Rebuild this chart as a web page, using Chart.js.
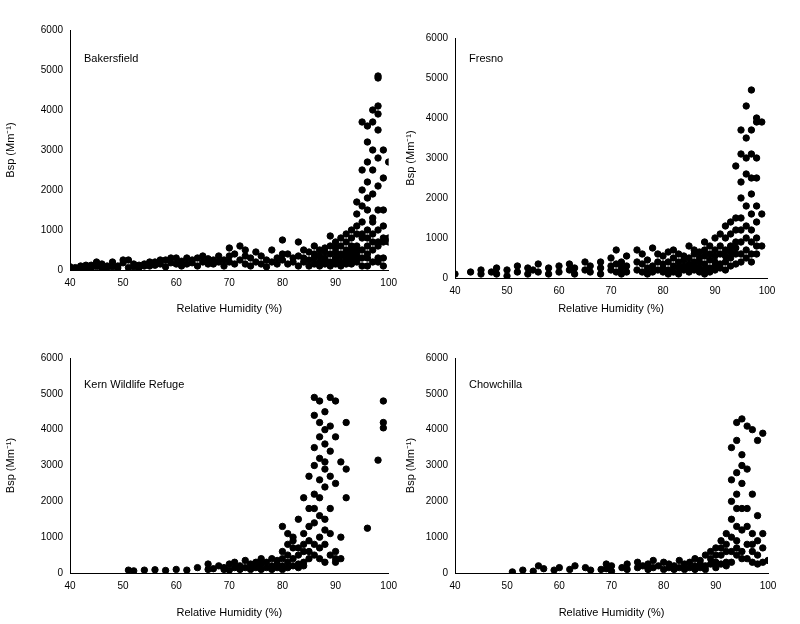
<!DOCTYPE html>
<html>
<head>
<meta charset="utf-8">
<script src="https://cdn.jsdelivr.net/npm/chart.js@4"></script>
<style>
body { margin: 0; background: #fff; width: 800px; height: 624px; position: relative; overflow: hidden; }
canvas { position: absolute; }
.lbl { position: absolute; font: 11px Arial, "Liberation Sans", sans-serif; color: #000; }
</style>
</head>
<body>
<canvas id="c1" style="left:0;top:0" width="400" height="320"></canvas>
<canvas id="c2" style="left:400px;top:0" width="380" height="320"></canvas>
<canvas id="c3" style="left:0;top:320px" width="400" height="304"></canvas>
<canvas id="c4" style="left:400px;top:320px" width="380" height="304"></canvas>
<div class="lbl" style="left:84px;top:52px">Bakersfield</div>
<div class="lbl" style="left:469px;top:52px">Fresno</div>
<div class="lbl" style="left:84px;top:378px">Kern Wildlife Refuge</div>
<div class="lbl" style="left:469px;top:378px">Chowchilla</div>
<script>
// columns: relative humidity value, then the Bsp values seen at that humidity
const bakRH = [40,41,42,43,44,45,46,47,48,49,50,51,52,53,54,55,56,57,58,59,60,61,62,63,64,65,66,67,68,69,70,71,72,73,74,75,76,77,78,79,80,81,82,83,84,85,86,87,88,89,90,91,92,93,94,95,96,97,98,99,100];
const bakBsp = [[80,50],[60,30],[100,40],[60,120],[120,50],[90,200],[150,40],[60,100],[200,80],[100,50],[180,250],[250,60],[80,150],[120,60],[150,100],[100,200],[200,120],[150,250],[250,80],[180,300],[300,150],[220,100],[150,300],[250,180],[300,100],[200,350],[280,150],[150,250],[350,200],[250,100],[550,200,350],[400,150],[600,250],[500,350,150],[300,100],[200,450],[350,150],[250,80],[500,200],[300,150],[750,250,400],[400,150],[300,200],[700,350,100],[500,200,300],[250,450,100],[400,150,300,600],[500,200,350,100],[300,450,150,550,250],[600,200,400,100,850],[450,300,150,700,250,550],[350,200,600,100,800,400],[500,300,700,150,900,250,400],[400,200,600,1000,300,800,150,500],[600,300,900,1400,200,1100,500,1700,400],[800,1200,300,2000,1600,500,2500,100,900,3700],[1000,2200,600,1500,3200,300,2700,1800,800,3600,400,100],[500,1300,2500,3000,700,4000,200,1900,900,3700,1200],[600,1500,2100,3500,300,4100,1000,2800,3900,200,4800,4850,700],[300,800,1500,2300,3000,100,700,1100],[700,2700,800]];
const freRH = [40,43,45,47,48,50,52,54,55,56,58,60,62,63,65,66,68,70,71,72,73,75,76,77,78,79,80,81,82,83,84,85,86,87,88,89,90,91,92,93,94,95,96,97,98,99];
const freBsp = [[100],[150],[200,100],[150],[100,250],[200,50],[150,300],[250,100],[200],[350,150],[250,100],[300,150],[200,350],[250,100],[400,200],[300,150],[250,400,100],[500,200,300],[700,150,350],[400,250,100],[300,550,150],[700,200,400],[350,150,600],[250,450,100],[750,300,150],[400,200,600],[350,550,150,250],[650,200,400,100],[500,300,150,700],[400,250,600,100],[300,550,200,450],[800,350,150,500,250],[600,300,400,200,700],[500,250,650,150,400],[350,900,200,550,100,700],[450,800,250,600,150],[1000,400,700,200,550,300],[600,1100,350,800,250],[700,1000,400,1300,200,550],[800,1400,500,1100,300,650],[1200,600,900,1500,350,2800,750],[1500,3100,900,2400,600,3700,1200,2000,400],[1800,3500,1000,2600,700,4300,1300,3000,500],[1600,2500,900,3100,600,3700,1200,2100,400,4700],[1000,3000,1400,2500,800,3900,1800,4000,600],[1600,3900,800]];
const kernRH = [51,52,54,56,58,60,62,64,66,67,68,69,70,71,72,73,74,75,76,77,78,79,80,81,82,83,84,85,86,87,88,89,90,91,92,96,98,99];
const kernBsp = [[80],[60],[80],[90],[70],[100],[80],[150],[100,250],[120],[200],[150,100],[250,80],[300,150],[200,100],[350,150],[250,100],[300,150,200],[400,100,250],[300,150],[200,400,100],[350,150,250],[600,200,400,100,1300],[800,300,500,150,1100],[700,400,200,900,1000],[500,250,1500,700,150],[600,1100,300,2100,800,200],[900,1800,400,1300,2700,600],[1400,3500,2200,800,4400,3000,500,1800,4900],[2600,4200,1600,3800,700,3200,4800,400,2100,1000],[3100,4500,2400,1500,3600,800,4000,300,2900,1200],[4100,2700,4900,1800,3400,500,1100],[2500,600,3800,400,4800,300],[3100,1000,400],[4200,2100,2900],[1250],[3150],[4800,4200,4050]];
const chowRH = [51,53,55,56,57,59,60,62,63,65,66,68,69,70,72,73,75,76,77,78,79,80,81,82,83,84,85,86,87,88,89,90,91,92,93,94,95,96,97,98,99,100];
const chowBsp = [[30],[80],[50],[200],[120],[80],[150],[100],[200],[150],[80],[100],[250,120],[200,50],[150],[100,250],[300,150],[200],[100,250],[350,150],[200],[300,100],[150,250],[200,100],[350,150],[100,250],[300,150],[200,400,100],[350,150,250],[500,200,100],[400,250,600],[300,700,150,500],[500,900,250,700],[600,1100,300,800,200],[1000,2000,600,1500,2600,300,3500],[1300,2800,700,3700,4200,2200,500,1800,900],[1200,2500,600,3300,4300,1800,400,3000],[800,1800,400,4100,2900,1300],[600,1100,300,2200,4000,800],[500,900,250,3700,1600],[700,300,3900,1100],[350]];

const yTicks = [0,1000,2000,3000,4000,5000,6000];

function points(rh, bsp) {
  const pts = [];
  rh.forEach((x, i) => bsp[i].forEach(y => pts.push({x: x, y: y})));
  return pts;
}

function makeChart(id, rh, bsp, yw, xh, pad) {
  const font = { family: 'Arial, "Liberation Sans", sans-serif', size: 10 };
  new Chart(document.getElementById(id), {
    type: 'scatter',
    data: { datasets: [{ data: points(rh, bsp), backgroundColor: '#000', borderColor: '#000', pointRadius: 3.2 }] },
    options: {
      responsive: false, animation: false,
      layout: { padding: pad },
      plugins: { legend: { display: false }, tooltip: { enabled: false } },
      scales: {
        x: {
          min: 40, max: 100,
          ticks: { stepSize: 10, color: '#000', font: font, callback: v => String(v) },
          grid: { display: false, drawTicks: true, tickLength: 4, tickColor: '#000' },
          border: { color: '#000' },
          title: { display: true, text: 'Relative Humidity (%)', color: '#000', font: { family: font.family, size: 11 } },
          afterFit: s => { s.height = xh; }
        },
        y: {
          min: 0, max: 6000,
          afterBuildTicks: s => { s.ticks = yTicks.map(v => ({ value: v })); },
          ticks: { color: '#000', font: font, callback: v => String(v) },
          grid: { display: false, tickLength: 4, tickColor: '#000' },
          border: { color: '#000' },
          title: { display: true, text: 'Bsp (Mm⁻¹)', color: '#000', font: { family: font.family, size: 11 } },
          afterFit: s => { s.width = yw; }
        }
      }
    }
  });
}

makeChart('c1', bakRH, bakBsp, 70, 50, { left: 0, top: 30, right: 10, bottom: 0 });
makeChart('c2', freRH, freBsp, 55, 42, { left: 0, top: 38, right: 13, bottom: 0 });
makeChart('c3', kernRH, kernBsp, 70, 51, { left: 0, top: 38, right: 10, bottom: 0 });
makeChart('c4', chowRH, chowBsp, 55, 51, { left: 0, top: 38, right: 12, bottom: 0 });
</script>
</body>
</html>
